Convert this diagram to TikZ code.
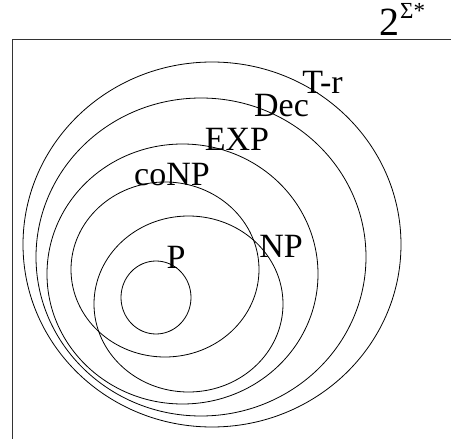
\documentclass[tikz,border=0pt]{standalone}
\usepackage{fontspec}
\setmainfont{Liberation Serif}
\usetikzlibrary{positioning}
\tikzset{
    class set/.style={draw,line width=.8pt},
    class label/.style={inner sep=0pt,anchor=base,
        font=\fontsize{34}{37}\selectfont}
}

\begin{document}
\begin{tikzpicture}[x=1pt,y=-1pt]
\useasboundingbox (0,0) rectangle (451,439);
% universe frame
\draw[line width=1pt,black!80] (12,439) -- (12,39) -- (451,39);
\node[anchor=base west,inner sep=0pt] (univ) at (379,35)
    {\fontsize{40}{42}\selectfont 2\hspace{1pt}\raisebox{17pt}{\fontsize{23}{25}\selectfont Σ*}};
% classes, outermost first: T-r, Dec, EXP, coNP, NP, P
\foreach \cx/\cy/\rx/\ry in {212/244.5/189/182.5,201/257/165/159,182.5/274/135.5/130,
    165/269.5/94/87.5,188.5/304/94.5/88,156/297.5/35/36.5}
    \draw[class set] (\cx,\cy) ellipse [x radius=\rx pt,y radius=\ry pt];
\node[class label] (tr) at (322.5,93) {T-r};
\node[class label] (dec) at (281.5,117) {Dec};
\node[class label] (exp) at (237,150) {EXP};
\node[class label] (conp) at (172,185) {coNP};
\node[class label] (np) at (281,257) {NP};
\node[class label] (p) at (176,268) {P};
\end{tikzpicture}
\end{document}
